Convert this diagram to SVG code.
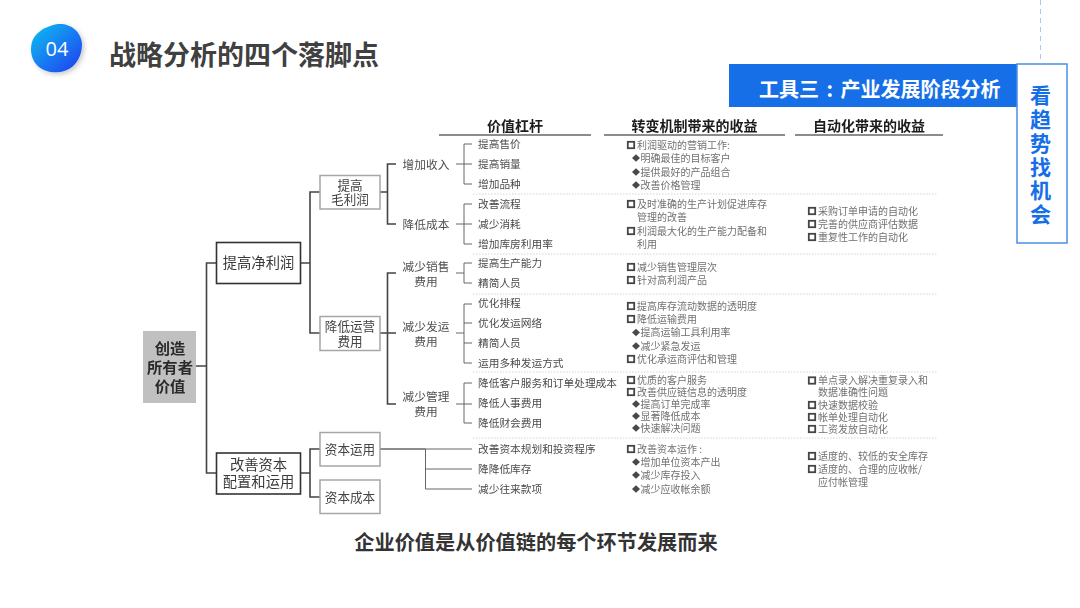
<svg xmlns="http://www.w3.org/2000/svg" width="1080" height="608" viewBox="0 0 1080 608">
<style>
text{font-family:"Noto Sans CJK SC","Noto Sans",sans-serif;dominant-baseline:central;transform:translateY(-1px)}
.m{text-anchor:middle}
.box{fill:#fff;stroke:#a6a6a6;stroke-width:1.5}
.boxd{fill:#fff;stroke:#333;stroke-width:1.6}
.n1{font-size:14.3px;fill:#3a3a3a}
.n2{font-size:12.6px;fill:#444}
.n3{font-size:11.7px;fill:#4f4f4f}
.leaf{font-size:10.7px;fill:#4a4a4a}
.b{font-size:10px;fill:#717171}
.h{font-size:14px;font-weight:700;fill:#1c1c1c}
.hl{stroke:#8c8c8c;stroke-width:2;fill:none}
.sep{stroke:#d4d4d4;stroke-width:1;stroke-dasharray:1.5 1.5;fill:none}
.c1{stroke:#444;stroke-width:1.6;fill:none}
.c2{stroke:#666;stroke-width:1;fill:none}
</style>
<defs>
<linearGradient id="g" x1="0.1" y1="0.1" x2="0.9" y2="0.9"><stop offset="0" stop-color="#0db4f2"/><stop offset="1" stop-color="#2148f0"/></linearGradient>
<filter id="s" x="-30%" y="-30%" width="160%" height="160%"><feDropShadow dx="2" dy="2" stdDeviation="2.5" flood-color="#000" flood-opacity="0.22"/></filter>
<filter id="soft" x="0" y="0" width="1080" height="608" filterUnits="userSpaceOnUse" primitiveUnits="userSpaceOnUse"><feGaussianBlur stdDeviation="0.45"/></filter>
<g id="sq"><rect x="-3.200" y="-3.200" width="6.400" height="6.400" fill="#fff" stroke="#444" stroke-width="1.800"/></g>
<path id="di" d="M-4 0L0-3.800L4 0L0 3.800Z" fill="#4a4a4a"/>
</defs>
<rect width="1080" height="608" fill="#fff"/>
<path d="M1040.500 0V60" stroke="#a9c8f2" stroke-width="1" stroke-dasharray="5 4" fill="none"/>

<g id="badge">
<path d="M31 49C31 35 42 27 58 24C70 23 81 31 82 44C82 58 74 70 60 72C45 74 31 66 31 49Z" fill="url(#g)" filter="url(#s)"/>
<text class="m" x="57" y="49" font-size="20" fill="#fff" style="font-family:'Open Sans','Liberation Sans',sans-serif">04</text>
</g>
<text id="title" x="109" y="54.500" font-size="27" font-weight="700" fill="#404040">战略分析的四个落脚点</text>

<g id="tool-banner">
<rect x="729" y="64" width="289" height="43" fill="#176fe8"/>
<text x="759" y="89" font-size="20" font-weight="700" fill="#fff" word-spacing="3">工具三 : 产业发展阶段分析</text>
</g>
<g id="side-tab">
<rect x="1017" y="64" width="50" height="179" fill="#fff" stroke="#4a8fe8" stroke-width="1.500"/>
<g font-size="21" font-weight="700" fill="#176fe8" text-anchor="middle">
<text x="1040.500" y="95">看</text><text x="1040.500" y="118.500">趋</text><text x="1040.500" y="143">势</text><text x="1040.500" y="166.500">找</text><text x="1040.500" y="190">机</text><text x="1040.500" y="213.500">会</text>
</g>
</g>

<g id="chart" filter="url(#soft)">
<g id="connectors">
<path class="c1" d="M196 366H206.500M216.500 263H206.500V473H216.500"/>
<path class="c1" d="M301 263H310M320 192H310V333H320"/>
<path class="c1" d="M301 473H310M320 449H310V497H320"/>
<path class="c1" d="M380 192H387.500M396 164H387.500V224H396"/>
<path class="c1" d="M380 333H396M396 273H387.500V404H396"/>
<path class="c2" d="M456 164H472M472 144H464V184H472"/>
<path class="c2" d="M456 224H472M472 204H464V244H472"/>
<path class="c2" d="M456 273H464M472 263H464V283H472"/>
<path class="c2" d="M456 333H464M472 304H464V363H472M464 323H472M464 343H472"/>
<path class="c2" d="M456 404H472M472 383H464V423H472"/>
<path class="c2" d="M380 449H472M425.500 449V489H472M425.500 469H472"/>
<path class="c2" d="M380 449H425.500"/>
</g>

<g id="headers">
<path class="hl" d="M439 135H591M604 135H785M795 135H943"/>
<text class="h m" x="515" y="125.500">价值杠杆</text>
<text class="h m" x="694.500" y="125.500">转变机制带来的收益</text>
<text class="h m" x="869" y="125.500">自动化带来的收益</text>
</g>
<path id="separators" class="sep" d="M473 194H937M473 254H937M473 294H937M473 372H937M473 438H937"/>

<g id="root"><rect x="143" y="331" width="53" height="72" fill="#c0c0c0"/>
<g font-size="15.300" font-weight="700" fill="#2b2b2b" text-anchor="middle"><text x="170" y="348">创造</text><text x="170" y="367">所有者</text><text x="170" y="386">价值</text></g></g>
<g id="n-net-profit"><rect class="boxd" x="216.500" y="242.500" width="84" height="41"/><text class="n1 m" x="258.500" y="262.500">提高净利润</text></g>
<g id="n-capital"><rect class="boxd" x="216.500" y="453" width="84" height="41"/><text class="n1 m" x="258.500" y="464">改善资本</text><text class="n1 m" x="258.500" y="481.500">配置和运用</text></g>
<g id="n-gross"><rect class="box" x="320" y="175.500" width="60" height="33.500"/><text class="n2 m" x="350" y="185">提高</text><text class="n2 m" x="350" y="199.500">毛利润</text></g>
<g id="n-opex"><rect class="box" x="320" y="316.500" width="60" height="34"/><text class="n2 m" x="350" y="326">降低运营</text><text class="n2 m" x="350" y="341">费用</text></g>
<g id="n-cap-use"><rect class="box" x="320" y="432.500" width="60" height="33.500"/><text class="n2 m" x="350" y="449.500">资本运用</text></g>
<g id="n-cap-cost"><rect class="box" x="320" y="480" width="60" height="33.500"/><text class="n2 m" x="350" y="497">资本成本</text></g>

<g id="n-rev"><text class="n3 m" x="426" y="164">增加收入</text></g>
<g id="n-cost"><text class="n3 m" x="426" y="224">降低成本</text></g>
<g id="n-sales"><text class="n3 m" x="426" y="266.500">减少销售</text><text class="n3 m" x="426" y="281">费用</text></g>
<g id="n-ship"><text class="n3 m" x="426" y="326.500">减少发运</text><text class="n3 m" x="426" y="341">费用</text></g>
<g id="n-admin"><text class="n3 m" x="426" y="396.500">减少管理</text><text class="n3 m" x="426" y="411">费用</text></g>

<g id="levers">
<g id="l1"><text class="leaf" x="478" y="144">提高售价</text></g>
<g id="l2"><text class="leaf" x="478" y="164">提高销量</text></g>
<g id="l3"><text class="leaf" x="478" y="184">增加品种</text></g>
<g id="l4"><text class="leaf" x="478" y="204">改善流程</text></g>
<g id="l5"><text class="leaf" x="478" y="224">减少消耗</text></g>
<g id="l6"><text class="leaf" x="478" y="244">增加库房利用率</text></g>
<g id="l7"><text class="leaf" x="478" y="263">提高生产能力</text></g>
<g id="l8"><text class="leaf" x="478" y="283">精简人员</text></g>
<g id="l9"><text class="leaf" x="478" y="303.500">优化排程</text></g>
<g id="l10"><text class="leaf" x="478" y="323">优化发运网络</text></g>
<g id="l11"><text class="leaf" x="478" y="343">精简人员</text></g>
<g id="l12"><text class="leaf" x="478" y="363">运用多种发运方式</text></g>
<g id="l13"><text class="leaf" x="478" y="383">降低客户服务和订单处理成本</text></g>
<g id="l14"><text class="leaf" x="478" y="403">降低人事费用</text></g>
<g id="l15"><text class="leaf" x="478" y="423">降低财会费用</text></g>
<g id="l16"><text class="leaf" x="478" y="449">改善资本规划和投资程序</text></g>
<g id="l17"><text class="leaf" x="478" y="469">降降低库存</text></g>
<g id="l18"><text class="leaf" x="478" y="489">减少往来款项</text></g>
</g>

<g id="benefits-change">
<use href="#sq" x="631" y="145"/><text class="b" x="637" y="145">利润驱动的营销工作:</text>
<use href="#di" x="636" y="158"/><text class="b" x="640.500" y="158">明确最佳的目标客户</text>
<use href="#di" x="636" y="172"/><text class="b" x="640.500" y="172">提供最好的产品组合</text>
<use href="#di" x="636" y="185"/><text class="b" x="640.500" y="185">改善价格管理</text>
<use href="#sq" x="631" y="204"/><text class="b" x="637" y="204">及时准确的生产计划促进库存</text>
<text class="b" x="637" y="217">管理的改善</text>
<use href="#sq" x="631" y="231"/><text class="b" x="637" y="231">利润最大化的生产能力配备和</text>
<text class="b" x="637" y="244">利用</text>
<use href="#sq" x="631" y="267"/><text class="b" x="637" y="267">减少销售管理层次</text>
<use href="#sq" x="631" y="280"/><text class="b" x="637" y="280">针对高利润产品</text>
<use href="#sq" x="631" y="306"/><text class="b" x="637" y="306">提高库存流动数据的透明度</text>
<use href="#sq" x="631" y="319"/><text class="b" x="637" y="319">降低运输费用</text>
<use href="#di" x="636" y="332.500"/><text class="b" x="640.500" y="332.500">提高运输工具利用率</text>
<use href="#di" x="636" y="346"/><text class="b" x="640.500" y="346">减少紧急发运</text>
<use href="#sq" x="631" y="359"/><text class="b" x="637" y="359">优化承运商评估和管理</text>
<use href="#sq" x="631" y="380"/><text class="b" x="637" y="380">优质的客户服务</text>
<use href="#sq" x="631" y="392"/><text class="b" x="637" y="392">改善供应链信息的透明度</text>
<use href="#di" x="636" y="404"/><text class="b" x="640.500" y="404">提高订单完成率</text>
<use href="#di" x="636" y="416"/><text class="b" x="640.500" y="416">显著降低成本</text>
<use href="#di" x="636" y="428"/><text class="b" x="640.500" y="428">快速解决问题</text>
<use href="#sq" x="631" y="449"/><text class="b" x="637" y="449">改善资本运作 :</text>
<use href="#di" x="636" y="462"/><text class="b" x="640.500" y="462">增加单位资本产出</text>
<use href="#di" x="636" y="475"/><text class="b" x="640.500" y="475">减少库存投入</text>
<use href="#di" x="636" y="489"/><text class="b" x="640.500" y="489">减少应收帐余额</text>
</g>
<g id="benefits-auto">
<use href="#sq" x="812" y="211"/><text class="b" x="818" y="211">采购订单申请的自动化</text>
<use href="#sq" x="812" y="224"/><text class="b" x="818" y="224">完善的供应商评估数据</text>
<use href="#sq" x="812" y="237"/><text class="b" x="818" y="237">重复性工作的自动化</text>
<use href="#sq" x="812" y="380.500"/><text class="b" x="818" y="380.500">单点录入解决重复录入和</text>
<text class="b" x="818" y="392.500">数据准确性问题</text>
<use href="#sq" x="812" y="405"/><text class="b" x="818" y="405">快速数据校验</text>
<use href="#sq" x="812" y="417"/><text class="b" x="818" y="417">帐单处理自动化</text>
<use href="#sq" x="812" y="429"/><text class="b" x="818" y="429">工资发放自动化</text>
<use href="#sq" x="812" y="456"/><text class="b" x="818" y="456">适度的、较低的安全库存</text>
<use href="#sq" x="812" y="469"/><text class="b" x="818" y="469">适度的、合理的应收帐/</text>
<text class="b" x="818" y="482">应付帐管理</text>
</g>
</g>
<text id="caption" class="m" x="536" y="542.500" font-size="20.200" font-weight="700" fill="#333">企业价值是从价值链的每个环节发展而来</text>
</svg>
